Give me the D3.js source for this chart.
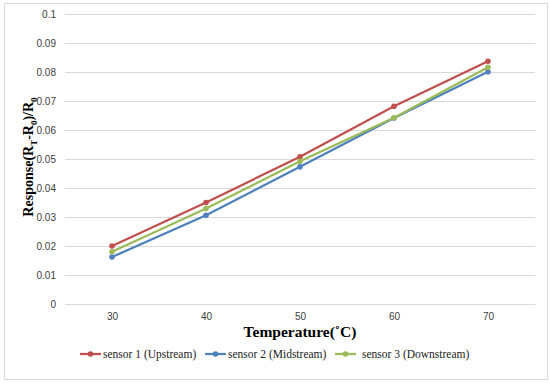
<!DOCTYPE html>
<html>
<head>
<meta charset="utf-8">
<script src="https://cdn.jsdelivr.net/npm/d3@7"></script>
<style>
  body { margin: 0; background: #fff; }
</style>
</head>
<body>
<div id="chart"></div>
<script>
var temperatures = [30, 40, 50, 60, 70];
var sensor1 = [0.0200, 0.0350, 0.0508, 0.0682, 0.0837];
var sensor2 = [0.0162, 0.0306, 0.0473, 0.0641, 0.0801];
var sensor3 = [0.0180, 0.0329, 0.0492, 0.0642, 0.0816];
var seriesNames = ['sensor 1 (Upstream)', 'sensor 2 (Midstream)', 'sensor 3 (Downstream)'];
var seriesColors = ['#C0504D', '#4F81BD', '#9BBB59'];
var yTicks = [0, 0.01, 0.02, 0.03, 0.04, 0.05, 0.06, 0.07, 0.08, 0.09, 0.1];

var series = [sensor1, sensor2, sensor3];

var W = 550, H = 387;
var margin = { top: 14, right: 15, bottom: 83, left: 65 };
var width = W - margin.left - margin.right;
var height = H - margin.top - margin.bottom;

var svg = d3.select('#chart').append('svg')
    .attr('width', W)
    .attr('height', H);

// chart border
svg.append('rect')
    .attr('x', 4.5).attr('y', 3.5)
    .attr('width', 543).attr('height', 376)
    .attr('fill', 'none')
    .attr('stroke', '#d9d9d9');

var g = svg.append('g')
    .attr('transform', 'translate(' + margin.left + ',' + margin.top + ')');

var x = d3.scalePoint()
    .domain(temperatures)
    .range([0, width])
    .padding(0.5);

var y = d3.scaleLinear()
    .domain([0, 0.1])
    .range([height, 0]);

// gridlines + y labels
var yAxis = g.append('g')
    .call(d3.axisLeft(y).tickValues(yTicks).tickSize(-width).tickPadding(9)
        .tickFormat(function (d) { return d === 0 ? '0' : String(+d.toFixed(2)); }));
yAxis.select('.domain').remove();
yAxis.selectAll('line').attr('stroke', '#d9d9d9').attr('stroke-width', 1);
yAxis.selectAll('text')
    .style('font-family', '"Liberation Sans", Arial, sans-serif')
    .style('font-size', '10px')
    .attr('fill', '#404040');

// x axis
var xAxis = g.append('g')
    .attr('transform', 'translate(0,' + height + ')')
    .call(d3.axisBottom(x).tickSize(0).tickPadding(9));
xAxis.select('.domain').attr('stroke', '#d9d9d9');
xAxis.selectAll('text')
    .style('font-family', '"Liberation Sans", Arial, sans-serif')
    .style('font-size', '10px')
    .attr('fill', '#404040');

// lines
var line = d3.line()
    .x(function (d, i) { return x(temperatures[i]); })
    .y(function (d) { return y(d); });

series.forEach(function (s, k) {
    g.append('path')
        .datum(s)
        .attr('fill', 'none')
        .attr('stroke', seriesColors[k])
        .attr('stroke-width', 2.25)
        .attr('d', line);
    g.selectAll('.pt' + k)
        .data(s)
        .enter()
        .append('circle')
        .attr('class', 'pt' + k)
        .attr('cx', function (d, i) { return x(temperatures[i]); })
        .attr('cy', function (d) { return y(d); })
        .attr('r', 2.8)
        .attr('fill', seriesColors[k]);
});

// axis titles
svg.append('text')
    .attr('x', 300)
    .attr('y', 337)
    .attr('text-anchor', 'middle')
    .style('font-family', '"Liberation Serif", "Times New Roman", serif')
    .style('font-size', '15.5px')
    .style('font-weight', 'bold')
    .text('Temperature(˚C)');

var yt = svg.append('text')
    .attr('text-anchor', 'middle')
    .attr('transform', 'translate(33,157)rotate(-90)')
    .style('font-family', '"Liberation Serif", "Times New Roman", serif')
    .style('font-size', '14px')
    .style('font-weight', 'bold');
yt.append('tspan').text('Response(R');
yt.append('tspan').attr('dy', 4).style('font-size', '9px').text('T');
yt.append('tspan').attr('dy', -4).text('-R');
yt.append('tspan').attr('dy', 4).style('font-size', '9px').text('0');
yt.append('tspan').attr('dy', -4).text(')/R');
yt.append('tspan').attr('dy', 4).style('font-size', '9px').text('0');

// legend
var legendX = [80, 205, 335];
var legend = svg.selectAll('.legend')
    .data(seriesNames)
    .enter()
    .append('g')
    .attr('class', 'legend')
    .attr('transform', function (d, i) { return 'translate(' + legendX[i] + ',354)'; });

legend.append('line')
    .attr('x1', 0).attr('x2', 21)
    .attr('stroke', function (d, i) { return seriesColors[i]; })
    .attr('stroke-width', 2.25);
legend.append('circle')
    .attr('cx', 10.5).attr('r', 2.8)
    .attr('fill', function (d, i) { return seriesColors[i]; });
legend.append('text')
    .attr('x', function (d, i) { return i === 2 ? 27 : 23; })
    .attr('y', 4)
    .style('font-family', '"Liberation Serif", "Times New Roman", serif')
    .style('font-size', '11.5px')
    .attr('fill', '#222')
    .text(function (d) { return d; });
</script>
</body>
</html>
